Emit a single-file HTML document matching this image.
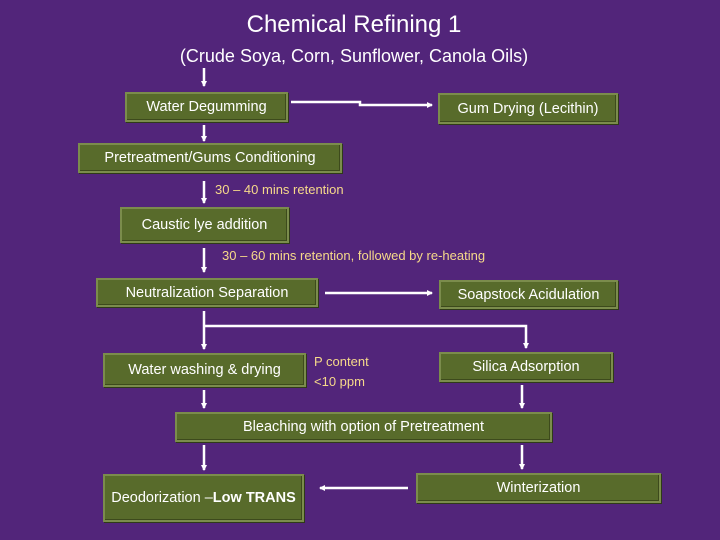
<!DOCTYPE html>
<html><head><meta charset="utf-8"><style>
body{margin:0;width:720px;height:540px;background:#52257a;position:relative;overflow:hidden;font-family:"Liberation Sans",sans-serif;}
.b{position:absolute;box-sizing:border-box;background:#586b2b;border:2px solid #7b8c4c;box-shadow:inset -1px -1px 0 #3d4a1c,1px 1px 0 #2f3a18;color:#fff;font-size:14.5px;display:flex;align-items:center;justify-content:center;text-align:center;line-height:20px;}
.t{position:absolute;color:#fff;white-space:nowrap;}
.a{position:absolute;color:#f6d98a;font-size:13px;white-space:nowrap;}
svg{position:absolute;left:0;top:0;}
</style></head><body>
<div class="t" style="left:0;width:708px;text-align:center;top:11px;font-size:24px;">Chemical Refining 1</div>
<div class="t" style="left:0;width:708px;text-align:center;top:46px;font-size:18px;">(Crude Soya, Corn, Sunflower, Canola Oils)</div>

<div class="b" style="left:125px;top:92px;width:163px;height:30px;">Water Degumming</div>
<div class="b" style="left:438px;top:93px;width:180px;height:31px;">Gum Drying (Lecithin)</div>
<div class="b" style="left:78px;top:143px;width:264px;height:30px;">Pretreatment/Gums Conditioning</div>
<div class="a" style="left:215px;top:182px;">30 – 40 mins retention</div>
<div class="b" style="left:120px;top:207px;width:169px;height:36px;">Caustic lye addition</div>
<div class="a" style="left:222px;top:248px;">30 – 60 mins retention, followed by re-heating</div>
<div class="b" style="left:96px;top:278px;width:222px;height:29px;">Neutralization Separation</div>
<div class="b" style="left:439px;top:280px;width:179px;height:29px;">Soapstock Acidulation</div>
<div class="b" style="left:103px;top:353px;width:203px;height:34px;">Water washing &amp; drying</div>
<div class="a" style="left:314px;top:352px;line-height:20px;">P content<br>&lt;10 ppm</div>
<div class="b" style="left:439px;top:352px;width:174px;height:30px;">Silica Adsorption</div>
<div class="b" style="left:175px;top:412px;width:377px;height:30px;">Bleaching with option of Pretreatment</div>
<div class="b" style="left:103px;top:474px;width:201px;height:48px;">Deodorization –<br><b>Low TRANS</b></div>
<div class="b" style="left:416px;top:473px;width:245px;height:30px;">Winterization</div>

<svg width="720" height="540">
<defs><marker id="m" markerWidth="6" markerHeight="6" refX="5" refY="3" orient="auto" markerUnits="userSpaceOnUse"><path d="M0,0 L6,3 L0,6z" fill="#fff"/></marker></defs>
<g stroke="#fff" stroke-width="2.5" fill="none">
<path d="M204 68 V86" marker-end="url(#m)"/>
<path d="M291 102 H360 V105 H432" marker-end="url(#m)"/>
<path d="M204 125 V141" marker-end="url(#m)"/>
<path d="M204 181 V203" marker-end="url(#m)"/>
<path d="M204 248 V272" marker-end="url(#m)"/>
<path d="M325 293 H432" marker-end="url(#m)"/>
<path d="M204 311 V349" marker-end="url(#m)"/>
<path d="M204 326 H526 V348" marker-end="url(#m)"/>
<path d="M204 390 V408" marker-end="url(#m)"/>
<path d="M522 385 V408" marker-end="url(#m)"/>
<path d="M204 445 V470" marker-end="url(#m)"/>
<path d="M522 445 V469" marker-end="url(#m)"/>
<path d="M408 488 H320" marker-end="url(#m)"/>
</g></svg>
</body></html>
